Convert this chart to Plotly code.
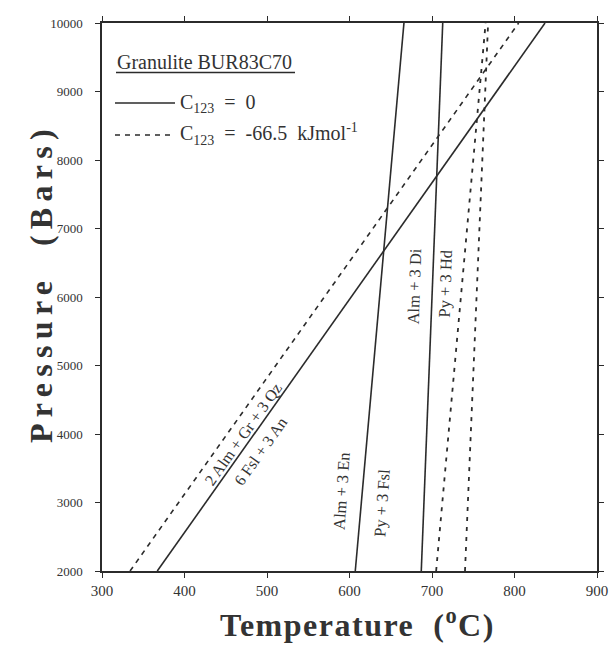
import plotly.graph_objects as go

# ---- data (Temperature °C at P = 2000 and 10000 bars) ----
P_ends = [2000, 10000]
T_gasp_c0 = [367, 837]      # 2 Alm + Gr + 3 Qz = 6 Fsl + 3 An, C123 = 0
T_gasp_c66 = [334, 805]     # same, C123 = -66.5
T_en_c0 = [607, 666]        # Alm + 3 En = Py + 3 Fsl, C123 = 0
T_en_c66 = [705, 765]
T_di_c0 = [687, 713]        # Alm + 3 Di = Py + 3 Hd, C123 = 0
T_di_c66 = [740, 768]

x_ticks = [300, 400, 500, 600, 700, 800, 900]
y_ticks = [2000, 3000, 4000, 5000, 6000, 7000, 8000, 9000, 10000]

INK = "#2b2b2b"
TXT = "#333333"
SERIF = "Liberation Serif, Times New Roman, serif"

L, R, T, B = 102, 597, 23, 571
W, H = 610, 645


def PX(px):
    return (px - L) / (R - L)


def PY(py):
    return (B - py) / (B - T)


fig = go.Figure()
solid = dict(color=INK, width=1.6)
dash_long = dict(color=INK, width=1.6, dash="5px,5px")
dash_short = dict(color=INK, width=1.8, dash="4px,6px")

for xs, ln in [(T_gasp_c0, solid), (T_gasp_c66, dash_long),
               (T_en_c0, solid), (T_en_c66, dash_short),
               (T_di_c0, solid), (T_di_c66, dash_short)]:
    fig.add_trace(go.Scatter(x=xs, y=P_ends, mode="lines", line=ln,
                             showlegend=False, hoverinfo="skip"))

axis_common = dict(showline=True, linecolor=INK, linewidth=1.5, mirror="ticks",
                   ticks="outside", ticklen=5, tickwidth=1.2, tickcolor=INK,
                   showgrid=False, zeroline=False, automargin=False)

fig.update_xaxes(range=[300, 900], tickvals=x_ticks,
                 ticktext=[str(v) for v in x_ticks],
                 tickfont=dict(family=SERIF, size=15, color=TXT), **axis_common)
fig.update_yaxes(range=[2000, 10000], tickvals=y_ticks,
                 ticktext=[str(v) for v in y_ticks], ticklabelstandoff=10,
                 tickfont=dict(family=SERIF, size=13, color=TXT), **axis_common)

ann = []
diag_font = dict(family=SERIF, size=16, color=TXT)
vert_font = dict(family=SERIF, size=16.5, color=TXT)
# labels along lines (data coordinates)
ann.append(dict(x=471, y=3990, xref="x", yref="y", text="2 Alm + Gr + 3 Qz",
                textangle=-54.7, showarrow=False, font=diag_font))
ann.append(dict(x=492, y=3745, xref="x", yref="y", text="6 Fsl + 3 An",
                textangle=-54.7, showarrow=False, font=diag_font))
ann.append(dict(x=591, y=3170, xref="x", yref="y", text="Alm + 3 En",
                textangle=-86, showarrow=False, font=vert_font))
ann.append(dict(x=639, y=2990, xref="x", yref="y", text="Py + 3 Fsl",
                textangle=-86, showarrow=False, font=vert_font))
ann.append(dict(x=679, y=6150, xref="x", yref="y", text="Alm + 3 Di",
                textangle=-88, showarrow=False, font=vert_font))
ann.append(dict(x=716, y=6200, xref="x", yref="y", text="Py + 3 Hd",
                textangle=-88, showarrow=False, font=vert_font))

# legend block
leg_font = dict(family=SERIF, size=20, color=TXT)
ann.append(dict(x=PX(115), y=PY(62), xref="paper", yref="paper", xanchor="left",
                yanchor="middle", text="Granulite BUR83C70", showarrow=False,
                font=leg_font))
ann.append(dict(x=PX(178), y=PY(103), xref="paper", yref="paper", xanchor="left",
                yanchor="middle", text="C<sub>123</sub>\u00a0 = \u00a00",
                showarrow=False, font=leg_font))
ann.append(dict(x=PX(178), y=PY(134), xref="paper", yref="paper", xanchor="left",
                yanchor="middle",
                text="C<sub>123</sub>\u00a0 = \u00a0-66.5\u00a0 kJmol<sup>-1</sup>",
                showarrow=False, font=leg_font))

# axis titles
title_font = dict(family=SERIF, size=32, color=TXT)
ann.append(dict(x=PX(357), y=PY(645), xref="paper", yref="paper",
                xanchor="center", yanchor="bottom",
                text='<b><span style="letter-spacing:1.5px">Temperature\u00a0 (<sup>o</sup>C)</span></b>',
                showarrow=False, font=title_font))
ann.append(dict(x=PX(41), y=PY(283), xref="paper", yref="paper", textangle=-90,
                xanchor="center", yanchor="middle",
                text='<b><span style="letter-spacing:6.3px">Pressure\u00a0 (Bars)</span></b>',
                showarrow=False, font=title_font))

shapes = [
    dict(type="line", xref="paper", yref="paper", x0=PX(116), x1=PX(295),
         y0=PY(72.5), y1=PY(72.5), line=dict(color=INK, width=1.6)),
    dict(type="line", xref="paper", yref="paper", x0=PX(115), x1=PX(175),
         y0=PY(103), y1=PY(103), line=dict(color=INK, width=1.6)),
    dict(type="line", xref="paper", yref="paper", x0=PX(115), x1=PX(175),
         y0=PY(135), y1=PY(135), line=dict(color=INK, width=1.6, dash="5px,5px")),
]

fig.update_layout(width=W, height=H, margin=dict(l=L, r=W - R, t=T, b=H - B),
                  plot_bgcolor="white", paper_bgcolor="white",
                  annotations=ann, shapes=shapes, showlegend=False)

fig.write_html("out.html")
